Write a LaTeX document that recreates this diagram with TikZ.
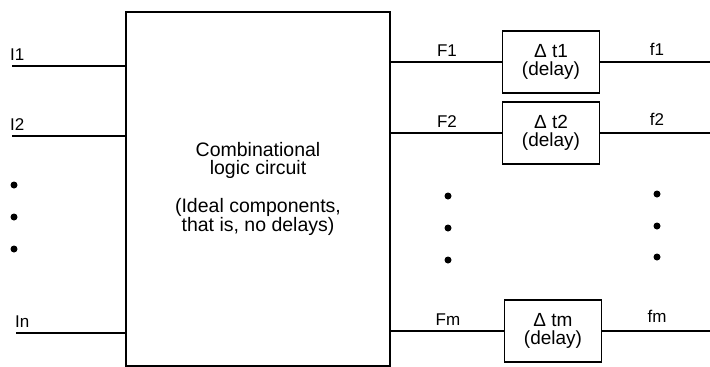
\documentclass[tikz,border=0pt]{standalone}
\usepackage{fontspec}
\setmainfont{Liberation Sans}
\usetikzlibrary{positioning}

\begin{document}
\begin{tikzpicture}[
  x=1pt, y=-1pt,
  wire/.style={line width=1.4pt},
  logicbox/.style={draw, line width=1.7pt, minimum width=264pt, minimum height=354pt, align=center, font=\fontsize{19.5}{18}\selectfont},
  delaybox/.style={draw, line width=1.6pt, minimum width=97pt, minimum height=62pt, align=center, inner sep=0pt, font=\fontsize{19}{18}\selectfont},
  lbl/.style={font=\fontsize{17}{18}\selectfont, inner sep=0pt, anchor=base},
  dot/.style={circle, fill, inner sep=0pt, minimum size=7pt}
]
  \useasboundingbox (0,0) rectangle (710,367);

  \node[logicbox] (logic) at (258,189) {Combinational\\logic circuit\\[18pt](Ideal components,\\that is, no delays)};
  \node[delaybox] (d1) at (551,62) {Δ t1\\(delay)};
  \node[delaybox] (d2) at (551,133) {Δ t2\\(delay)};
  \node[delaybox] (dm) at (553,331) {Δ tm\\(delay)};

  \coordinate (i1) at (12,66);
  \coordinate (i2) at (12,136);
  \coordinate (in) at (16,333);
  \coordinate (o1) at (710,62);
  \coordinate (o2) at (710,133);
  \coordinate (om) at (710,331);

  \node[lbl, anchor=base west] (li1) at (10,60) {I1};
  \node[lbl, anchor=base west] (li2) at (10,130) {I2};
  \node[lbl, anchor=base west] (lin) at (15,327) {In};
  \node[lbl] (lF1) at (447,56) {F1};
  \node[lbl] (lF2) at (447,127) {F2};
  \node[lbl] (lFm) at (448,325) {Fm};
  \node[lbl] (lf1) at (657,55) {f1};
  \node[lbl] (lf2) at (657,125) {f2};
  \node[lbl] (lfm) at (657,322) {fm};

  \node[dot] (ldot1) at (14,185) {};
  \node[dot] (ldot2) at (14,217) {};
  \node[dot] (ldot3) at (14,249) {};
  \node[dot] (mdot1) at (448,196) {};
  \node[dot] (mdot2) at (448,228) {};
  \node[dot] (mdot3) at (448,260) {};
  \node[dot] (rdot1) at (657,194) {};
  \node[dot] (rdot2) at (657,226) {};
  \node[dot] (rdot3) at (657,257) {};

  \draw[wire] (i1) -- (i1 -| logic.west);
  \draw[wire] (i2) -- (i2 -| logic.west);
  \draw[wire] (in) -- (in -| logic.west);
  \draw[wire] (logic.east |- d1.west) -- (d1.west);
  \draw[wire] (logic.east |- d2.west) -- (d2.west);
  \draw[wire] (logic.east |- dm.west) -- (dm.west);
  \draw[wire] (d1.east) -- (o1);
  \draw[wire] (d2.east) -- (o2);
  \draw[wire] (dm.east) -- (om);
\end{tikzpicture}
\end{document}
